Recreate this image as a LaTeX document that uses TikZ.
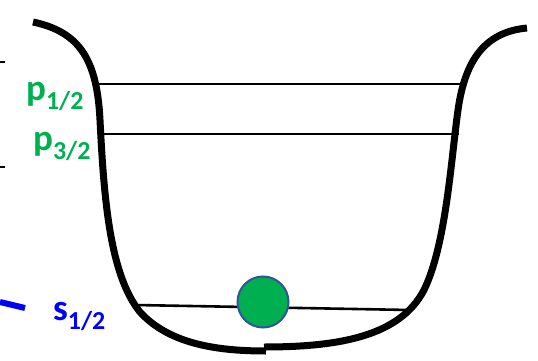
\documentclass[tikz,border=0pt]{standalone}
\usepackage{fontspec}
\setmainfont{Carlito}
\usepackage{xcolor}
\usepackage{tikz}
\usetikzlibrary{positioning,calc}
\definecolor{lvlgreen}{RGB}{0,176,80}
\definecolor{ballrim}{RGB}{47,85,151}

\begin{document}
\begin{tikzpicture}[x=1pt, y=-1pt,
  wl/.style={line width=7pt},
  lv/.style={line width=2.6pt},
  lb/.style={font=\fontsize{37}{40}\selectfont\bfseries, inner sep=0pt, anchor=base west},
  ball/.style={circle,draw=ballrim,fill=lvlgreen,line width=2pt,minimum size=51pt,inner sep=0pt}]
  \useasboundingbox (0,0) rectangle (538,361);
  % well
  \draw[wl] (33,22) .. controls (80,32) and (97,60) .. (100,120)
    .. controls (104,200) and (110,275) .. (140,312)
    .. controls (170,345) and (220,351) .. (266,351);
  \draw[wl] (264,347) .. controls (340,347) and (400,336) .. (424,290)
    .. controls (446,245) and (451,160) .. (458,110)
    .. controls (465,60) and (485,32) .. (527,28);
  % levels
  \coordinate (pa) at (97,84);  \coordinate (pb) at (460,84);
  \coordinate (qa) at (103,134); \coordinate (qb) at (459,134);
  \coordinate (sa) at (135,305); \coordinate (sb) at (410,310);
  \draw[lv] (pa) -- (pb);
  \draw[lv] (qa) -- (qb);
  \draw[lv] (sa) -- (sb);
  \node[ball] (atom) at (263,302) {};
  % labels
  \node[lb,text=lvlgreen] (p1) at (26,100) {p\textsubscript{1/2}};
  \node[lb,text=lvlgreen] (p3) at (33,150) {p\textsubscript{3/2}};
  \node[lb,text=blue] (s1) at (53,320) {s\textsubscript{1/2}};
  % marks at the edge
  \draw[line width=1.6pt] (0,62) -- (5,62);
  \draw[line width=1.6pt] (0,167) -- (5,167);
  \draw[blue,line width=6pt] (0,302) -- (25,308);
\end{tikzpicture}
\end{document}
